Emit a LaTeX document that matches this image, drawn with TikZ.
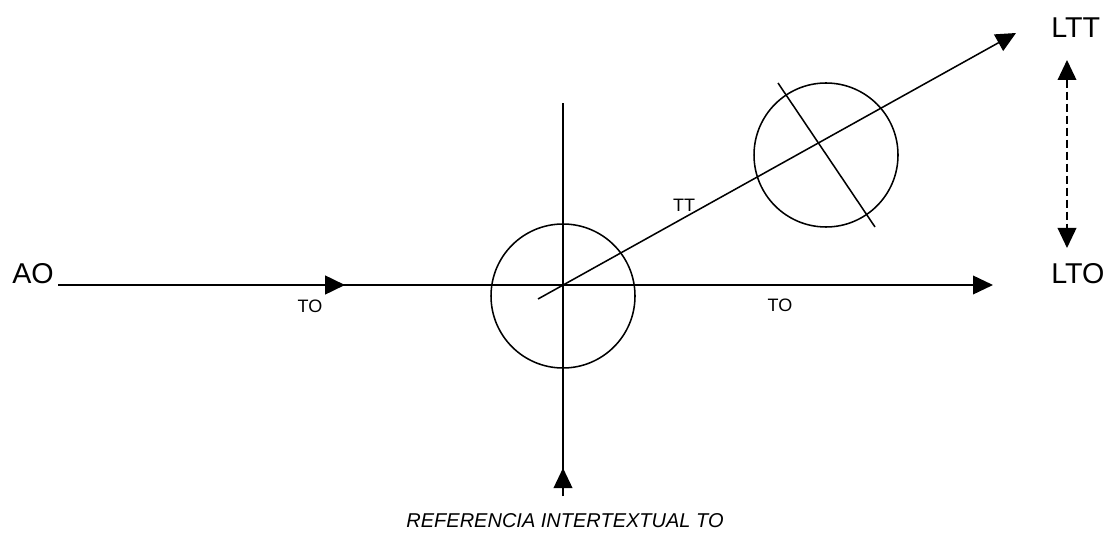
\documentclass[tikz,border=0pt]{standalone}
\usepackage{fontspec}
\setmainfont{Liberation Sans}
\usetikzlibrary{arrows.meta}

\begin{document}
\begin{tikzpicture}[x=0.75pt,y=-0.75pt,every node/.style={inner sep=0pt,font=\fontsize{13.5}{16}\selectfont},
  axis/.style={line width=1.15pt},
  heavy/.style={line width=2pt},
  tip/.style={-{Triangle[length=15pt,width=14pt]}},
  twotip/.style={{Triangle[length=15pt,width=14pt]}-{Triangle[length=15pt,width=14pt]}},
  big/.style={font=\fontsize{21.5}{26}\selectfont}]
  \useasboundingbox (0,0) rectangle (1112,559);

  % horizontal axis
  \node[big,anchor=base west] (ao) at (12,283) {AO};
  \coordinate (h0) at (58,285);
  \coordinate (h1) at (993,285);
  \coordinate (m0) at (200,285);
  \coordinate (m1) at (345,285);
  \draw[axis,tip] (h0) -- (h1);
  \draw[heavy,tip] (m0) -- (m1);
  \coordinate (k0) at (466,285);
  \coordinate (k1) at (491,285);
  \draw[heavy] (k0) -- (k1);
  \coordinate (r0) at (635,285);
  \coordinate (r1) at (778,285);
  \draw[heavy] (r0) -- (r1);
  \node[anchor=base] (to1) at (310,312) {TO};
  \node[anchor=base] (to2) at (780,311) {TO};

  % vertical axis
  \coordinate (v0) at (563,496);
  \coordinate (v1) at (563,103);
  \coordinate (va) at (563,468);
  \draw[axis] (v0) -- (v1);
  \draw[axis,tip] (v0) -- (va);

  % circles
  \draw[axis] (563,296) circle (72);
  \draw[axis] (826,155) circle (72);

  % slanted axis
  \coordinate (d0) at (538,299);
  \coordinate (d1) at (1016,33);
  \draw[axis,tip] (d0) -- (d1);
  \coordinate (c0) at (778,83);
  \coordinate (c1) at (875,227);
  \draw[axis] (c0) -- (c1);
  \node[anchor=base] (tt) at (684,212) {TT};

  % right side
  \node[big,anchor=base west] (ltt) at (1051,38) {LTT};
  \node[big,anchor=base west] (lto) at (1051,283) {LTO};
  \coordinate (s0) at (1067,60);
  \coordinate (s1) at (1067,248);
  \draw[axis,dash pattern=on 6pt off 3pt,twotip] (s0) -- (s1);

  \node[anchor=base,font=\fontsize{15}{18}\selectfont\itshape] (ref) at (565,527) {REFERENCIA INTERTEXTUAL TO};
\end{tikzpicture}
\end{document}
